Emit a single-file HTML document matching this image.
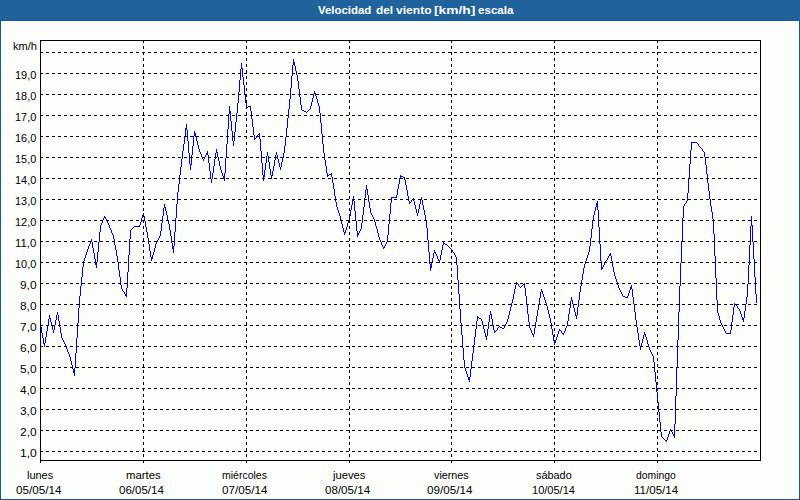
<!DOCTYPE html>
<html><head><meta charset="utf-8"><title>Velocidad del viento [km/h] escala</title>
<style>
html,body{margin:0;padding:0}
body{width:800px;height:500px;overflow:hidden;background:#135890;position:relative;font-family:"Liberation Sans",sans-serif;font-size:11px;color:#000}
#hdr{position:absolute;left:0;top:0;width:800px;height:20px;background:#1f6399}
#pane{position:absolute;left:1px;top:21px;width:798px;height:478px;background:#fcfefb}
svg{position:absolute;left:0;top:0}
span{position:absolute;line-height:13px;height:13px;white-space:nowrap;transform-origin:0 0;display:block}
.t{color:#fff;font-weight:bold}
</style></head><body>
<div id="hdr"></div>
<div id="pane"></div>
<svg width="800" height="500" viewBox="0 0 800 500" shape-rendering="crispEdges">
<defs><pattern id="dz" width="8" height="4" patternUnits="userSpaceOnUse"><path fill="#2060b8" d="M1 0h1v1h-1zM5 1h1v1h-1zM3 2h1v1h-1zM7 3h1v1h-1z"/></pattern></defs>
<rect x="0" y="0" width="800" height="20" fill="url(#dz)"/>
<path fill="#0000f0" stroke="none" d="M40 324h1v3h-1zM41 327h1v6h-1zM42 333h1v5h-1zM43 338h1v6h-1zM44 343h1v4h-1zM45 337h1v6h-1zM46 331h1v6h-1zM47 325h1v6h-1zM48 319h1v6h-1zM49 315h1v4h-1zM50 318h1v4h-1zM51 322h1v4h-1zM52 326h1v4h-1zM53 330h1v3h-1zM54 325h1v5h-1zM55 320h1v5h-1zM56 315h1v5h-1zM57 312h1v3h-1zM58 315h1v6h-1zM59 321h1v6h-1zM60 327h1v6h-1zM61 333h1v5h-1zM62 338h1v2h-1zM63 340h1v2h-1zM64 342h1v2h-1zM65 344h1v2h-1zM66 346h1v3h-1zM67 349h1v3h-1zM68 352h1v2h-1zM69 354h1v3h-1zM70 357h1v4h-1zM71 361h1v4h-1zM72 365h1v4h-1zM73 369h1v4h-1zM74 368h1v8h-1zM75 353h1v15h-1zM76 338h1v15h-1zM77 323h1v15h-1zM78 308h1v15h-1zM79 296h1v12h-1zM80 286h1v10h-1zM81 277h1v9h-1zM82 267h1v10h-1zM83 261h1v6h-1zM84 258h1v3h-1zM85 255h1v3h-1zM86 252h1v3h-1zM87 249h1v3h-1zM88 246h1v3h-1zM89 244h1v2h-1zM90 241h1v3h-1zM91 239h1v3h-1zM92 242h1v6h-1zM93 248h1v5h-1zM94 253h1v6h-1zM95 259h1v6h-1zM96 262h1v6h-1zM97 252h1v10h-1zM98 242h1v10h-1zM99 232h1v10h-1zM100 225h1v7h-1zM101 223h1v2h-1zM102 220h1v3h-1zM103 218h1v2h-1zM104 216h1v2h-1zM105 217h1v2h-1zM106 219h1v2h-1zM107 221h1v2h-1zM108 223h1v2h-1zM109 225h1v3h-1zM110 228h1v2h-1zM111 230h1v3h-1zM112 233h1v2h-1zM113 235h1v4h-1zM114 239h1v6h-1zM115 245h1v5h-1zM116 250h1v6h-1zM117 256h1v6h-1zM118 262h1v8h-1zM119 270h1v7h-1zM120 277h1v8h-1zM121 285h1v4h-1zM122 289h1v2h-1zM123 291h1v1h-1zM124 292h1v2h-1zM125 294h1v2h-1zM126 288h1v9h-1zM127 272h1v16h-1zM128 255h1v17h-1zM129 239h1v16h-1zM130 230h1v9h-1zM131 229h1v1h-1zM132 228h1v1h-1zM133 227h1v1h-1zM134 226h1v1h-1zM135 226h1v1h-1zM136 226h1v1h-1zM137 226h1v1h-1zM138 226h1v1h-1zM139 225h1v2h-1zM140 222h1v3h-1zM141 218h1v4h-1zM142 215h1v3h-1zM143 213h1v3h-1zM144 216h1v5h-1zM145 221h1v6h-1zM146 227h1v5h-1zM147 232h1v6h-1zM148 238h1v6h-1zM149 244h1v7h-1zM150 251h1v6h-1zM151 257h1v4h-1zM152 255h1v4h-1zM153 252h1v3h-1zM154 248h1v4h-1zM155 244h1v4h-1zM156 242h1v2h-1zM157 240h1v2h-1zM158 238h1v2h-1zM159 236h1v2h-1zM160 231h1v5h-1zM161 223h1v8h-1zM162 216h1v7h-1zM163 208h1v8h-1zM164 204h1v4h-1zM165 207h1v4h-1zM166 211h1v4h-1zM167 215h1v5h-1zM168 220h1v4h-1zM169 224h1v6h-1zM170 230h1v6h-1zM171 236h1v7h-1zM172 243h1v6h-1zM173 246h1v7h-1zM174 232h1v14h-1zM175 218h1v14h-1zM176 204h1v14h-1zM177 192h1v12h-1zM178 184h1v8h-1zM179 175h1v9h-1zM180 167h1v8h-1zM181 159h1v8h-1zM182 151h1v8h-1zM183 144h1v7h-1zM184 136h1v8h-1zM185 128h1v8h-1zM186 124h1v6h-1zM187 130h1v11h-1zM188 141h1v12h-1zM189 153h1v11h-1zM190 164h1v6h-1zM191 155h1v10h-1zM192 146h1v9h-1zM193 136h1v10h-1zM194 131h1v5h-1zM195 133h1v4h-1zM196 137h1v4h-1zM197 141h1v4h-1zM198 145h1v4h-1zM199 149h1v3h-1zM200 152h1v2h-1zM201 154h1v3h-1zM202 157h1v2h-1zM203 159h1v2h-1zM204 157h1v2h-1zM205 155h1v2h-1zM206 153h1v2h-1zM207 151h1v4h-1zM208 155h1v8h-1zM209 163h1v8h-1zM210 171h1v8h-1zM211 179h1v4h-1zM212 173h1v6h-1zM213 166h1v7h-1zM214 159h1v7h-1zM215 153h1v6h-1zM216 149h1v4h-1zM217 152h1v5h-1zM218 157h1v4h-1zM219 161h1v5h-1zM220 166h1v4h-1zM221 170h1v3h-1zM222 173h1v3h-1zM223 176h1v3h-1zM224 173h1v8h-1zM225 158h1v15h-1zM226 144h1v14h-1zM227 129h1v15h-1zM228 114h1v15h-1zM229 106h1v8h-1zM230 111h1v10h-1zM231 121h1v10h-1zM232 131h1v10h-1zM233 141h1v5h-1zM234 132h1v9h-1zM235 122h1v10h-1zM236 113h1v9h-1zM237 103h1v10h-1zM238 92h1v11h-1zM239 80h1v12h-1zM240 69h1v11h-1zM241 63h1v6h-1zM242 68h1v9h-1zM243 77h1v8h-1zM244 85h1v9h-1zM245 94h1v9h-1zM246 103h1v5h-1zM247 107h1v1h-1zM248 106h1v1h-1zM249 106h1v1h-1zM250 106h1v5h-1zM251 111h1v8h-1zM252 119h1v8h-1zM253 127h1v8h-1zM254 135h1v5h-1zM255 138h1v1h-1zM256 137h1v1h-1zM257 135h1v2h-1zM258 134h1v1h-1zM259 133h1v6h-1zM260 139h1v12h-1zM261 151h1v12h-1zM262 163h1v12h-1zM263 175h1v6h-1zM264 170h1v7h-1zM265 163h1v7h-1zM266 156h1v7h-1zM267 152h1v4h-1zM268 156h1v6h-1zM269 162h1v7h-1zM270 169h1v6h-1zM271 175h1v4h-1zM272 171h1v5h-1zM273 166h1v5h-1zM274 160h1v6h-1zM275 155h1v5h-1zM276 152h1v3h-1zM277 155h1v4h-1zM278 159h1v4h-1zM279 163h1v4h-1zM280 167h1v3h-1zM281 162h1v5h-1zM282 158h1v4h-1zM283 153h1v5h-1zM284 146h1v7h-1zM285 137h1v9h-1zM286 128h1v9h-1zM287 118h1v10h-1zM288 109h1v9h-1zM289 99h1v10h-1zM290 88h1v11h-1zM291 76h1v12h-1zM292 65h1v11h-1zM293 59h1v6h-1zM294 62h1v4h-1zM295 66h1v5h-1zM296 71h1v4h-1zM297 75h1v6h-1zM298 81h1v8h-1zM299 89h1v8h-1zM300 97h1v8h-1zM301 105h1v5h-1zM302 110h1v1h-1zM303 110h1v1h-1zM304 111h1v1h-1zM305 111h1v1h-1zM306 112h1v1h-1zM307 111h1v1h-1zM308 110h1v1h-1zM309 109h1v1h-1zM310 106h1v3h-1zM311 102h1v4h-1zM312 98h1v4h-1zM313 94h1v4h-1zM314 91h1v3h-1zM315 93h1v3h-1zM316 96h1v3h-1zM317 99h1v4h-1zM318 103h1v3h-1zM319 106h1v7h-1zM320 113h1v10h-1zM321 123h1v11h-1zM322 134h1v10h-1zM323 144h1v9h-1zM324 153h1v7h-1zM325 160h1v6h-1zM326 166h1v7h-1zM327 173h1v4h-1zM328 175h1v1h-1zM329 174h1v1h-1zM330 174h1v1h-1zM331 173h1v4h-1zM332 177h1v6h-1zM333 183h1v6h-1zM334 189h1v7h-1zM335 196h1v6h-1zM336 202h1v5h-1zM337 207h1v3h-1zM338 210h1v3h-1zM339 213h1v3h-1zM340 216h1v4h-1zM341 220h1v4h-1zM342 224h1v4h-1zM343 228h1v4h-1zM344 232h1v3h-1zM345 230h1v3h-1zM346 227h1v3h-1zM347 223h1v4h-1zM348 220h1v3h-1zM349 216h1v4h-1zM350 210h1v6h-1zM351 205h1v5h-1zM352 199h1v6h-1zM353 196h1v5h-1zM354 201h1v10h-1zM355 211h1v10h-1zM356 221h1v10h-1zM357 231h1v6h-1zM358 233h1v2h-1zM359 231h1v2h-1zM360 229h1v2h-1zM361 223h1v6h-1zM362 215h1v8h-1zM363 207h1v8h-1zM364 198h1v9h-1zM365 190h1v8h-1zM366 185h1v5h-1zM367 189h1v6h-1zM368 195h1v7h-1zM369 202h1v6h-1zM370 208h1v5h-1zM371 213h1v2h-1zM372 215h1v2h-1zM373 217h1v2h-1zM374 219h1v3h-1zM375 222h1v4h-1zM376 226h1v3h-1zM377 229h1v4h-1zM378 233h1v4h-1zM379 237h1v3h-1zM380 240h1v2h-1zM381 242h1v3h-1zM382 245h1v2h-1zM383 247h1v2h-1zM384 246h1v2h-1zM385 244h1v2h-1zM386 242h1v2h-1zM387 235h1v7h-1zM388 224h1v11h-1zM389 214h1v10h-1zM390 203h1v11h-1zM391 197h1v6h-1zM392 197h1v1h-1zM393 197h1v1h-1zM394 197h1v1h-1zM395 197h1v1h-1zM396 195h1v3h-1zM397 189h1v6h-1zM398 184h1v5h-1zM399 178h1v6h-1zM400 175h1v3h-1zM401 176h1v1h-1zM402 176h1v1h-1zM403 177h1v1h-1zM404 177h1v3h-1zM405 180h1v5h-1zM406 185h1v5h-1zM407 190h1v6h-1zM408 196h1v5h-1zM409 201h1v3h-1zM410 202h1v1h-1zM411 200h1v2h-1zM412 199h1v1h-1zM413 198h1v3h-1zM414 201h1v4h-1zM415 205h1v4h-1zM416 209h1v4h-1zM417 213h1v3h-1zM418 209h1v4h-1zM419 204h1v5h-1zM420 200h1v4h-1zM421 197h1v3h-1zM422 200h1v5h-1zM423 205h1v5h-1zM424 210h1v5h-1zM425 215h1v5h-1zM426 220h1v8h-1zM427 228h1v12h-1zM428 240h1v12h-1zM429 252h1v12h-1zM430 264h1v7h-1zM431 263h1v5h-1zM432 258h1v5h-1zM433 253h1v5h-1zM434 250h1v3h-1zM435 252h1v2h-1zM436 254h1v2h-1zM437 256h1v3h-1zM438 259h1v2h-1zM439 260h1v3h-1zM440 255h1v5h-1zM441 250h1v5h-1zM442 245h1v5h-1zM443 242h1v3h-1zM444 243h1v1h-1zM445 244h1v1h-1zM446 244h1v1h-1zM447 245h1v1h-1zM448 246h1v1h-1zM449 247h1v1h-1zM450 248h1v1h-1zM451 249h1v1h-1zM452 250h1v2h-1zM453 252h1v1h-1zM454 253h1v2h-1zM455 255h1v2h-1zM456 257h1v8h-1zM457 265h1v15h-1zM458 280h1v14h-1zM459 294h1v15h-1zM460 309h1v14h-1zM461 323h1v12h-1zM462 335h1v13h-1zM463 348h1v12h-1zM464 360h1v8h-1zM465 368h1v3h-1zM466 371h1v3h-1zM467 374h1v3h-1zM468 377h1v3h-1zM469 377h1v5h-1zM470 369h1v8h-1zM471 361h1v8h-1zM472 353h1v8h-1zM473 345h1v8h-1zM474 337h1v8h-1zM475 329h1v8h-1zM476 321h1v8h-1zM477 316h1v5h-1zM478 317h1v1h-1zM479 318h1v1h-1zM480 318h1v1h-1zM481 319h1v2h-1zM482 321h1v4h-1zM483 325h1v4h-1zM484 329h1v4h-1zM485 333h1v4h-1zM486 336h1v4h-1zM487 329h1v7h-1zM488 322h1v7h-1zM489 315h1v7h-1zM490 311h1v4h-1zM491 314h1v5h-1zM492 319h1v6h-1zM493 325h1v5h-1zM494 330h1v3h-1zM495 331h1v1h-1zM496 330h1v1h-1zM497 328h1v2h-1zM498 327h1v1h-1zM499 326h1v1h-1zM500 327h1v1h-1zM501 327h1v1h-1zM502 328h1v1h-1zM503 328h1v1h-1zM504 326h1v2h-1zM505 324h1v2h-1zM506 322h1v2h-1zM507 319h1v3h-1zM508 315h1v4h-1zM509 311h1v4h-1zM510 307h1v4h-1zM511 303h1v4h-1zM512 299h1v4h-1zM513 294h1v5h-1zM514 289h1v5h-1zM515 285h1v4h-1zM516 282h1v3h-1zM517 283h1v1h-1zM518 284h1v2h-1zM519 286h1v1h-1zM520 287h1v1h-1zM521 286h1v1h-1zM522 285h1v1h-1zM523 284h1v1h-1zM524 283h1v5h-1zM525 288h1v8h-1zM526 296h1v9h-1zM527 305h1v9h-1zM528 314h1v8h-1zM529 322h1v6h-1zM530 328h1v2h-1zM531 330h1v3h-1zM532 333h1v2h-1zM533 334h1v3h-1zM534 328h1v6h-1zM535 322h1v6h-1zM536 316h1v6h-1zM537 310h1v6h-1zM538 304h1v6h-1zM539 298h1v6h-1zM540 292h1v6h-1zM541 289h1v3h-1zM542 291h1v3h-1zM543 294h1v3h-1zM544 297h1v3h-1zM545 300h1v3h-1zM546 303h1v3h-1zM547 306h1v4h-1zM548 310h1v4h-1zM549 314h1v4h-1zM550 318h1v5h-1zM551 323h1v6h-1zM552 329h1v6h-1zM553 335h1v6h-1zM554 341h1v4h-1zM555 340h1v3h-1zM556 337h1v3h-1zM557 334h1v3h-1zM558 331h1v3h-1zM559 329h1v2h-1zM560 330h1v1h-1zM561 331h1v2h-1zM562 333h1v1h-1zM563 333h1v2h-1zM564 331h1v2h-1zM565 328h1v3h-1zM566 326h1v2h-1zM567 321h1v5h-1zM568 314h1v7h-1zM569 308h1v6h-1zM570 301h1v7h-1zM571 297h1v4h-1zM572 300h1v4h-1zM573 304h1v4h-1zM574 308h1v4h-1zM575 312h1v4h-1zM576 315h1v4h-1zM577 307h1v8h-1zM578 300h1v7h-1zM579 292h1v8h-1zM580 286h1v6h-1zM581 280h1v6h-1zM582 274h1v6h-1zM583 268h1v6h-1zM584 264h1v4h-1zM585 261h1v3h-1zM586 258h1v3h-1zM587 255h1v3h-1zM588 252h1v3h-1zM589 246h1v6h-1zM590 238h1v8h-1zM591 229h1v9h-1zM592 221h1v8h-1zM593 215h1v6h-1zM594 211h1v4h-1zM595 207h1v4h-1zM596 203h1v4h-1zM597 201h1v9h-1zM598 210h1v17h-1zM599 227h1v17h-1zM600 244h1v17h-1zM601 261h1v9h-1zM602 267h1v2h-1zM603 265h1v2h-1zM604 263h1v2h-1zM605 261h1v2h-1zM606 260h1v1h-1zM607 258h1v2h-1zM608 256h1v2h-1zM609 254h1v2h-1zM610 253h1v3h-1zM611 256h1v5h-1zM612 261h1v6h-1zM613 267h1v5h-1zM614 272h1v4h-1zM615 276h1v3h-1zM616 279h1v3h-1zM617 282h1v3h-1zM618 285h1v3h-1zM619 288h1v2h-1zM620 290h1v2h-1zM621 292h1v2h-1zM622 294h1v2h-1zM623 296h1v1h-1zM624 296h1v1h-1zM625 297h1v1h-1zM626 297h1v1h-1zM627 296h1v2h-1zM628 293h1v3h-1zM629 290h1v3h-1zM630 287h1v3h-1zM631 285h1v4h-1zM632 289h1v8h-1zM633 297h1v7h-1zM634 304h1v8h-1zM635 312h1v8h-1zM636 320h1v7h-1zM637 327h1v6h-1zM638 333h1v7h-1zM639 340h1v6h-1zM640 346h1v4h-1zM641 343h1v4h-1zM642 339h1v4h-1zM643 335h1v4h-1zM644 332h1v3h-1zM645 334h1v3h-1zM646 337h1v3h-1zM647 340h1v4h-1zM648 344h1v3h-1zM649 347h1v3h-1zM650 350h1v2h-1zM651 352h1v2h-1zM652 354h1v2h-1zM653 356h1v6h-1zM654 362h1v10h-1zM655 372h1v10h-1zM656 382h1v10h-1zM657 392h1v10h-1zM658 402h1v10h-1zM659 412h1v10h-1zM660 422h1v10h-1zM661 432h1v5h-1zM662 437h1v1h-1zM663 438h1v1h-1zM664 439h1v1h-1zM665 440h1v1h-1zM666 440h1v2h-1zM667 437h1v3h-1zM668 434h1v3h-1zM669 431h1v3h-1zM670 429h1v2h-1zM671 430h1v2h-1zM672 432h1v2h-1zM673 434h1v2h-1zM674 424h1v14h-1zM675 396h1v28h-1zM676 368h1v28h-1zM677 340h1v28h-1zM678 312h1v28h-1zM679 286h1v26h-1zM680 263h1v23h-1zM681 241h1v22h-1zM682 218h1v23h-1zM683 206h1v12h-1zM684 204h1v2h-1zM685 203h1v1h-1zM686 201h1v2h-1zM687 193h1v8h-1zM688 179h1v14h-1zM689 164h1v15h-1zM690 150h1v14h-1zM691 142h1v8h-1zM692 142h1v1h-1zM693 142h1v1h-1zM694 142h1v1h-1zM695 142h1v1h-1zM696 142h1v1h-1zM697 143h1v1h-1zM698 144h1v2h-1zM699 146h1v1h-1zM700 147h1v1h-1zM701 148h1v1h-1zM702 149h1v2h-1zM703 151h1v1h-1zM704 152h1v5h-1zM705 157h1v8h-1zM706 165h1v9h-1zM707 174h1v9h-1zM708 183h1v8h-1zM709 191h1v8h-1zM710 199h1v7h-1zM711 206h1v6h-1zM712 212h1v7h-1zM713 219h1v15h-1zM714 234h1v22h-1zM715 256h1v22h-1zM716 278h1v22h-1zM717 300h1v13h-1zM718 313h1v3h-1zM719 316h1v4h-1zM720 320h1v3h-1zM721 323h1v2h-1zM722 325h1v2h-1zM723 327h1v2h-1zM724 329h1v2h-1zM725 331h1v2h-1zM726 333h1v1h-1zM727 333h1v1h-1zM728 333h1v1h-1zM729 333h1v1h-1zM730 330h1v4h-1zM731 322h1v8h-1zM732 315h1v7h-1zM733 307h1v8h-1zM734 303h1v4h-1zM735 304h1v1h-1zM736 305h1v1h-1zM737 306h1v2h-1zM738 308h1v1h-1zM739 309h1v2h-1zM740 311h1v3h-1zM741 314h1v3h-1zM742 317h1v3h-1zM743 318h1v4h-1zM744 311h1v7h-1zM745 304h1v7h-1zM746 297h1v7h-1zM747 284h1v13h-1zM748 265h1v19h-1zM749 245h1v20h-1zM750 226h1v19h-1zM751 216h1v10h-1zM752 225h1v17h-1zM753 242h1v17h-1zM754 259h1v18h-1zM755 277h1v17h-1zM756 294h1v9h-1z"/>
<g stroke="#000" stroke-width="1" stroke-dasharray="3 3" fill="none">
<line x1="40" y1="451.5" x2="760" y2="451.5"/>
<line x1="40" y1="430.5" x2="760" y2="430.5"/>
<line x1="40" y1="409.5" x2="760" y2="409.5"/>
<line x1="40" y1="388.5" x2="760" y2="388.5"/>
<line x1="40" y1="367.5" x2="760" y2="367.5"/>
<line x1="40" y1="346.5" x2="760" y2="346.5"/>
<line x1="40" y1="325.5" x2="760" y2="325.5"/>
<line x1="40" y1="304.5" x2="760" y2="304.5"/>
<line x1="40" y1="283.5" x2="760" y2="283.5"/>
<line x1="40" y1="262.5" x2="760" y2="262.5"/>
<line x1="40" y1="241.5" x2="760" y2="241.5"/>
<line x1="40" y1="220.5" x2="760" y2="220.5"/>
<line x1="40" y1="199.5" x2="760" y2="199.5"/>
<line x1="40" y1="178.5" x2="760" y2="178.5"/>
<line x1="40" y1="157.5" x2="760" y2="157.5"/>
<line x1="40" y1="136.5" x2="760" y2="136.5"/>
<line x1="40" y1="115.5" x2="760" y2="115.5"/>
<line x1="40" y1="94.5" x2="760" y2="94.5"/>
<line x1="40" y1="73.5" x2="760" y2="73.5"/>
<line x1="40" y1="52.5" x2="760" y2="52.5"/>
<line x1="143.5" y1="40" x2="143.5" y2="463"/>
<line x1="246.5" y1="40" x2="246.5" y2="463"/>
<line x1="349.5" y1="40" x2="349.5" y2="463"/>
<line x1="451.5" y1="40" x2="451.5" y2="463"/>
<line x1="554.5" y1="40" x2="554.5" y2="463"/>
<line x1="657.5" y1="40" x2="657.5" y2="463"/>
</g>
<g stroke="#000" stroke-width="1" fill="none">
<rect x="40.5" y="40.5" width="720" height="420"/>
<line x1="40.5" y1="460" x2="40.5" y2="463"/>
</g>
</svg>
<div id="title"><span id="w0" class="t" style="left:318.00px;top:4px;transform:scaleX(1.0366)">Velocidad</span>
<span id="w1" class="t" style="left:376.00px;top:4px;transform:scaleX(1.0756)">del</span>
<span id="w2" class="t" style="left:396.00px;top:4px;transform:scaleX(1.0970)">viento</span>
<span id="w3" class="t" style="left:434.00px;top:4px;transform:scaleX(1.2529)">[km/h]</span>
<span id="w4" class="t" style="left:478.00px;top:4px;transform:scaleX(1.0538)">escala</span>
</div>
<div id="axis-labels">
<span id="unit" class="l" style="left:13.00px;top:40px;transform:scaleX(1.0056)">km/h</span>
<span id="y1" class="l" style="left:20.00px;top:447px;transform:scaleX(1.0983)">1,0</span>
<span id="y2" class="l" style="left:20.00px;top:426px;transform:scaleX(1.0870)">2,0</span>
<span id="y3" class="l" style="left:20.00px;top:405px;transform:scaleX(1.0777)">3,0</span>
<span id="y4" class="l" style="left:20.00px;top:384px;transform:scaleX(1.0598)">4,0</span>
<span id="y5" class="l" style="left:20.00px;top:363px;transform:scaleX(1.0783)">5,0</span>
<span id="y6" class="l" style="left:20.00px;top:342px;transform:scaleX(1.0870)">6,0</span>
<span id="y7" class="l" style="left:20.00px;top:321px;transform:scaleX(1.0870)">7,0</span>
<span id="y8" class="l" style="left:20.00px;top:300px;transform:scaleX(1.0783)">8,0</span>
<span id="y9" class="l" style="left:20.00px;top:279px;transform:scaleX(1.0783)">9,0</span>
<span id="y10" class="l" style="left:15.00px;top:258px;transform:scaleX(0.9938)">10,0</span>
<span id="y11" class="l" style="left:15.00px;top:237px;transform:scaleX(1.0325)">11,0</span>
<span id="y12" class="l" style="left:15.00px;top:216px;transform:scaleX(0.9938)">12,0</span>
<span id="y13" class="l" style="left:15.00px;top:195px;transform:scaleX(0.9938)">13,0</span>
<span id="y14" class="l" style="left:15.00px;top:174px;transform:scaleX(0.9938)">14,0</span>
<span id="y15" class="l" style="left:15.00px;top:153px;transform:scaleX(0.9938)">15,0</span>
<span id="y16" class="l" style="left:15.00px;top:132px;transform:scaleX(0.9938)">16,0</span>
<span id="y17" class="l" style="left:15.00px;top:111px;transform:scaleX(0.9938)">17,0</span>
<span id="y18" class="l" style="left:15.00px;top:90px;transform:scaleX(0.9938)">18,0</span>
<span id="y19" class="l" style="left:15.00px;top:69px;transform:scaleX(0.9938)">19,0</span>
<span id="d0" class="l" style="left:27.00px;top:469px;transform:scaleX(0.9950)">lunes</span>
<span id="t0" class="l" style="left:16.00px;top:484px;transform:scaleX(1.0594)">05/05/14</span>
<span id="d1" class="l" style="left:126.00px;top:469px;transform:scaleX(1.0308)">martes</span>
<span id="t1" class="l" style="left:119.00px;top:484px;transform:scaleX(1.0475)">06/05/14</span>
<span id="d2" class="l" style="left:222.00px;top:469px;transform:scaleX(0.9537)">miércoles</span>
<span id="t2" class="l" style="left:222.00px;top:484px;transform:scaleX(1.0594)">07/05/14</span>
<span id="d3" class="l" style="left:333.00px;top:469px;transform:scaleX(1.0198)">jueves</span>
<span id="t3" class="l" style="left:325.00px;top:484px;transform:scaleX(1.0534)">08/05/14</span>
<span id="d4" class="l" style="left:434.00px;top:469px;transform:scaleX(0.9786)">viernes</span>
<span id="t4" class="l" style="left:427.00px;top:484px;transform:scaleX(1.0594)">09/05/14</span>
<span id="d5" class="l" style="left:536.00px;top:469px;transform:scaleX(0.9894)">sábado</span>
<span id="t5" class="l" style="left:532.00px;top:484px;transform:scaleX(1.0030)">10/05/14</span>
<span id="d6" class="l" style="left:636.00px;top:469px;transform:scaleX(0.9424)">domingo</span>
<span id="t6" class="l" style="left:634.00px;top:484px;transform:scaleX(1.0522)">11/05/14</span>
</div>
</body></html>
